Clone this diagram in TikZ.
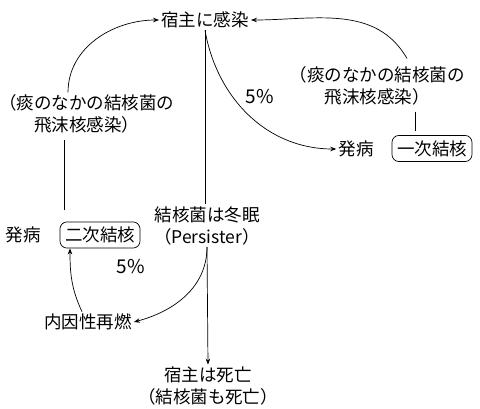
\documentclass[tikz,border=0pt]{standalone}
\usepackage{fontspec}
\setmainfont{Noto Sans CJK JP}
\usetikzlibrary{arrows.meta}
\begin{document}
\begin{tikzpicture}[x=1pt,y=1pt,
  txt/.style={inner sep=2pt,font=\fontsize{17.5}{22}\selectfont,align=center},
  pct/.style={inner sep=2pt,font=\fontsize{19}{22}\selectfont},
  rbox/.style={txt,draw,line width=0.7pt,rounded corners=7pt,inner xsep=5pt,inner ysep=5pt},
  arr/.style={-{Stealth[length=6pt,width=4.5pt]},line width=0.7pt},
  ln/.style={line width=0.7pt}]
\useasboundingbox (0,0) rectangle (480,408);
\node[txt] (inf) at (205,388) {宿主に感染};
\node[txt] (dlL) at (87,294) {（痰のなかの結核菌の\\飛沫核感染）};
\node[txt] (dlR) at (377,322) {（痰のなかの結核菌の\\飛沫核感染）};
\node[pct] (p5a) at (260,311) {5\%};
\node[txt] (hatsu1) at (356,259) {発病};
\node[rbox] (box1) at (432,259.5) {一次結核};
\node[txt] (cold) at (207,182.5) {結核菌は冬眠\\（Persister）};
\node[txt] (hatsu2) at (23,173) {発病};
\node[rbox] (box2) at (100,173) {二次結核};
\node[pct] (p5b) at (131,141) {5\%};
\node[txt] (react) at (88,86) {内因性再燃};
\node[txt] (death) at (208,22) {宿主は死亡\\（結核菌も死亡）};

\draw[arr] ([xshift=-19pt]dlL.north) to[out=90,in=180] (inf.west);
\draw[ln,shorten <=4pt,shorten >=12pt] ([xshift=-23pt]dlL.south) -- ([xshift=-36pt]box2.north);
\draw[arr] ([xshift=30pt,yshift=6pt]dlR.north) to[out=120,in=0] (inf.east);
\draw[ln,shorten <=4pt,shorten >=4pt] ([xshift=38pt]dlR.south) -- ([xshift=-17pt]box1.north);
\draw[arr] (inf.south) to[out=-80,in=180] (hatsu1.west);
\draw[ln] (inf.south) -- (inf.south |- cold.north);
\draw[arr] (cold.south) -- (death.north);
\draw[arr] (cold.south) to[out=-90,in=15] (react.east);
\draw[arr] ([xshift=-6pt]react.north) to[out=115,in=-90] ([xshift=-30pt]box2.south);
\end{tikzpicture}
\end{document}
